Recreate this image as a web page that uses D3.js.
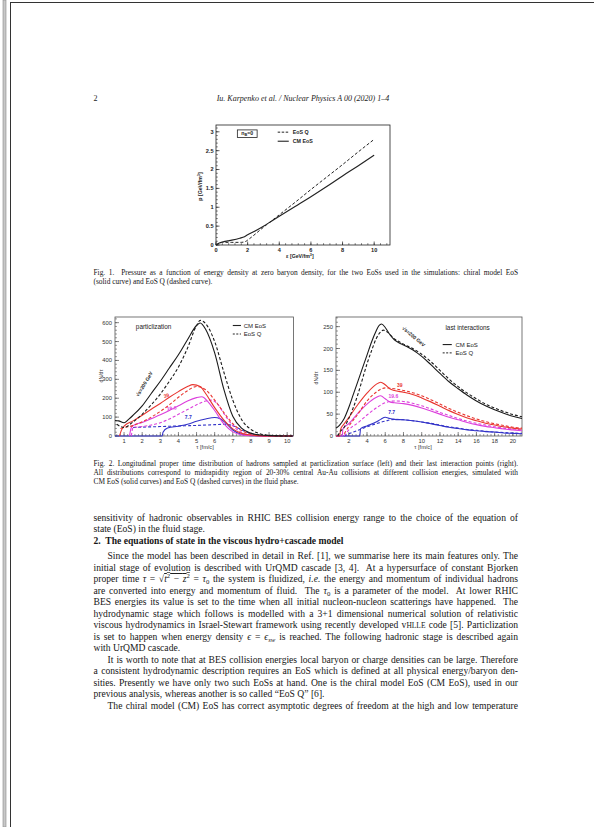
<!DOCTYPE html>
<html><head><meta charset="utf-8">
<script src="https://cdn.jsdelivr.net/npm/d3@7"></script>
<style>html,body{margin:0;padding:0;background:#fff;} svg{display:block}</style>
</head><body><svg id="page" width="594" height="827"></svg>
<script>
// ---------------- Fig. 1 data ----------------
const fig1EpsCM = [0, 0.25, 0.5, 0.75, 1, 1.5, 1.8, 2, 2.5, 3, 3.5, 4, 5, 6, 7, 8, 9, 10];
const fig1PCM   = [0, 0.06, 0.09, 0.11, 0.13, 0.18, 0.22, 0.27, 0.38, 0.5, 0.63, 0.76, 1.02, 1.28, 1.55, 1.83, 2.1, 2.38];
const fig1EpsQ  = [0, 0.15, 0.4, 1, 1.6, 1.9, 2, 3, 4, 5, 6, 7, 8, 9, 10];
const fig1PQ    = [0, 0.03, 0.07, 0.07, 0.07, 0.1, 0.13, 0.47, 0.8, 1.13, 1.47, 1.8, 2.13, 2.47, 2.8];
const fig1XTicks = [0, 2, 4, 6, 8, 10];
const fig1YTicks = [0, 0.5, 1, 1.5, 2, 2.5, 3];

// ---------------- Fig. 2 left (particlization) ----------------
const partTau200CM = [0.5, 0.7, 1.0, 1.25, 1.5, 2, 2.5, 3, 3.5, 4, 4.5, 5, 5.2, 5.5, 6, 6.5, 7, 7.5, 8, 8.5, 9, 10, 10.3];
const partVal200CM = [82, 80, 70, 88, 110, 160, 225, 290, 360, 430, 510, 585, 598, 565, 440, 250, 105, 40, 14, 5, 2, 0, 0];
const partTau200Q  = [0.6, 0.8, 1.0, 1.5, 2, 2.5, 3, 3.5, 4, 4.5, 5, 5.2, 5.5, 6, 6.5, 7, 7.5, 8, 8.5, 9, 10, 10.3];
const partVal200Q  = [62, 50, 45, 75, 115, 165, 222, 290, 365, 465, 585, 612, 595, 500, 340, 190, 85, 35, 12, 4, 0, 0];
const partTau39CM  = [0.75, 0.85, 1.0, 1.5, 2, 2.5, 3, 3.5, 4, 4.5, 4.8, 5.2, 5.5, 6, 6.5, 7, 7.5, 8, 9, 10.3];
const partVal39CM  = [0, 30, 52, 80, 110, 142, 172, 205, 235, 262, 272, 262, 225, 150, 85, 38, 14, 5, 0, 0];
const partTau39Q   = [0.8, 1.0, 1.5, 2, 2.5, 3, 3.5, 4, 4.5, 5, 5.5, 6, 6.5, 7, 7.5, 8, 8.5, 9, 10.3];
const partVal39Q   = [40, 45, 55, 75, 100, 130, 165, 205, 240, 262, 245, 190, 125, 65, 28, 10, 3, 0, 0];
const partTau19CM  = [1.3, 1.4, 1.5, 2, 2.5, 3, 3.5, 4, 4.5, 5, 5.3, 5.6, 6, 6.5, 7, 7.5, 8, 9, 10.3];
const partVal19CM  = [0, 45, 55, 72, 92, 112, 135, 160, 185, 203, 208, 185, 135, 65, 22, 6, 2, 0, 0];
const partTau19Q   = [1.4, 1.5, 2, 2.5, 3, 3.5, 4, 4.5, 5, 5.5, 5.8, 6.2, 6.5, 7, 7.5, 8, 9, 10.3];
const partVal19Q   = [0, 45, 50, 58, 70, 90, 115, 140, 165, 185, 190, 165, 120, 55, 18, 5, 0, 0];
const partTau7CM   = [0.5, 3.1, 3.15, 3.4, 4, 4.5, 5, 5.5, 6, 6.3, 6.6, 7, 7.5, 8, 9, 10.3];
const partVal7CM   = [0, 0, 20, 42, 52, 62, 78, 90, 98, 92, 70, 32, 8, 2, 0, 0];
const partTau7Q    = [1.5, 2, 3, 4, 5, 6, 6.5, 7, 7.5, 8, 8.5, 9, 10.3];
const partVal7Q    = [45, 47, 50, 53, 56, 60, 62, 55, 32, 12, 4, 1, 0];
const partXTicks = [1, 2, 3, 4, 5, 6, 7, 8, 9, 10];
const partYTicks = [0, 100, 200, 300, 400, 500, 600];

// ---------------- Fig. 2 right (last interactions) ----------------
const lastTau200CM = [0.6, 1, 1.5, 2, 2.5, 3, 3.5, 4, 4.5, 5, 5.3, 5.6, 6, 6.5, 7, 7.5, 8, 8.5, 9, 9.5, 10, 11, 12, 13, 14, 15, 16, 17, 18, 19, 20, 21];
const lastVal200CM = [18, 25, 40, 65, 95, 125, 155, 185, 215, 240, 252, 256, 248, 232, 220, 213, 208, 203, 197, 190, 182, 163, 143, 124, 108, 93, 80, 69, 60, 52, 45, 40];
const lastTau200Q  = [0.8, 1, 1.5, 2, 2.5, 3, 3.5, 4, 4.5, 5, 5.5, 5.8, 6.2, 6.7, 7, 7.5, 8, 8.5, 9, 9.5, 10, 11, 12, 13, 14, 15, 16, 17, 18, 19, 20, 21];
const lastVal200Q  = [0, 8, 20, 40, 65, 95, 130, 165, 195, 222, 238, 242, 238, 228, 222, 216, 210, 205, 200, 194, 187, 170, 150, 130, 113, 98, 85, 73, 64, 56, 49, 44];
const lastTau39CM  = [0.6, 1.0, 1.1, 1.5, 2, 3, 4, 5, 5.5, 6, 6.5, 7, 8, 9, 10, 11, 12, 13, 14, 15, 16, 17, 18, 19, 20, 21];
const lastVal39CM  = [0, 0, 15, 28, 42, 72, 98, 118, 123, 117, 108, 104, 100, 95, 87, 78, 68, 58, 49, 41, 35, 29, 25, 21, 18, 16];
const lastTau39Q   = [1.5, 2, 3, 4, 5, 5.5, 6, 7, 8, 9, 10, 11, 12, 13, 14, 15, 16, 17, 18, 19, 20, 21];
const lastVal39Q   = [5, 22, 50, 80, 100, 107, 110, 108, 104, 99, 92, 83, 73, 63, 54, 46, 39, 33, 28, 24, 20, 18];
const lastTau19CM  = [0.6, 1.3, 1.35, 1.5, 2, 3, 4, 5, 5.5, 6, 6.5, 7, 8, 9, 10, 11, 12, 13, 14, 15, 16, 17, 18, 19, 20, 21];
const lastVal19CM  = [0, 0, 15, 20, 28, 52, 73, 88, 92, 85, 78, 76, 74, 70, 64, 57, 50, 43, 37, 31, 26, 22, 19, 16, 14, 12];
const lastTau19Q   = [1.5, 2, 3, 4, 5, 6, 7, 8, 9, 10, 11, 12, 13, 14, 15, 16, 17, 18, 19, 20, 21];
const lastVal19Q   = [0, 14, 30, 48, 64, 76, 80, 79, 75, 69, 62, 54, 47, 40, 34, 29, 25, 21, 18, 16, 14];
const lastTau7CM   = [0.6, 3.2, 3.3, 4, 5, 5.5, 6, 6.5, 7, 8, 9, 10, 11, 12, 13, 14, 15, 16, 17, 18, 19, 20, 21];
const lastVal7CM   = [0, 0, 17, 23, 32, 38, 43, 40, 38, 37, 35, 32, 28, 24, 20, 17, 14, 12, 10, 9, 7, 6, 5];
const lastTau7Q    = [1.5, 2, 3, 4, 5, 6, 7, 8, 9, 10, 11, 12, 13, 14, 15, 16, 17, 18, 19, 20, 21];
const lastVal7Q    = [0, 5, 13, 21, 28, 34, 38, 37, 35, 32, 29, 25, 21, 18, 15, 13, 11, 9, 8, 7, 6];
const lastXTicks = [2, 4, 6, 8, 10, 12, 14, 16, 18, 20];
const lastYTicks = [0, 50, 100, 150, 200, 250];

// ---------------- Texts ----------------
const headerPage = "2";
const headerText = "Iu. Karpenko et al. / Nuclear Physics A 00 (2020) 1\u20134";
const fig1Caption = [
  "Fig. 1.  Pressure as a function of energy density at zero baryon density, for the two EoSs used in the simulations: chiral model EoS",
  "(solid curve) and EoS Q (dashed curve)."
];
const fig2Caption = [
  "Fig. 2. Longitudinal proper time distribution of hadrons sampled at particlization surface (left) and their last interaction points (right).",
  "All distributions correspond to midrapidity region of 20-30% central Au-Au collisions at different collision energies, simulated with",
  "CM EoS (solid curves) and EoS Q (dashed curves) in the fluid phase."
];
const bodyLines = [
  {s:["sensitivity of hadronic observables in RHIC BES collision energy range to the choice of the equation of"], j:1},
  {s:["state (EoS) in the fluid stage."], j:0},
  {s:["2.  The equations of state in the viscous hydro+cascade model"], j:0, b:1, gapAfter:1},
  {s:["Since the model has been described in detail in Ref. [1], we summarise here its main features only. The"], j:1, ind:1},
  {s:["initial stage of evolution is described with UrQMD cascade [3, 4].  At a hypersurface of constant Bjorken"], j:1},
  {s:["proper time ", {t:"\u03C4", i:1}, " = \u221A", {t:"t", i:1, o:1}, {t:"2", sup:1, o:1}, {t:" \u2212 ", o:1}, {t:"z", i:1, o:1}, {t:"2", sup:1, o:1}, " = ", {t:"\u03C4", i:1}, {t:"0", sub:1}, " the system is fluidized, ", {t:"i.e.", i:1}, " the energy and momentum of individual hadrons"], j:1},
  {s:["are converted into energy and momentum of fluid.  The ", {t:"\u03C4", i:1}, {t:"0", sub:1}, " is a parameter of the model.  At lower RHIC"], j:1},
  {s:["BES energies its value is set to the time when all initial nucleon-nucleon scatterings have happened.  The"], j:1},
  {s:["hydrodynamic stage which follows is modelled with a 3+1 dimensional numerical solution of relativistic"], j:1},
  {s:["viscous hydrodynamics in Israel-Stewart framework using recently developed v", {t:"HLLE", sc:1}, " code [5]. Particlization"], j:1},
  {s:["is set to happen when energy density ", {t:"\u03F5", i:1}, " = ", {t:"\u03F5", i:1}, {t:"sw", sub:1, i:1}, " is reached. The following hadronic stage is described again"], j:1},
  {s:["with UrQMD cascade."], j:0},
  {s:["It is worth to note that at BES collision energies local baryon or charge densities can be large. Therefore"], j:1, ind:1},
  {s:["a consistent hydrodynamic description requires an EoS which is defined at all physical energy/baryon den-"], j:1},
  {s:["sities. Presently we have only two such EoSs at hand. One is the chiral model EoS (CM EoS), used in our"], j:1},
  {s:["previous analysis, whereas another is so called \u201CEoS Q\u201D [6]."], j:0},
  {s:["The chiral model (CM) EoS has correct asymptotic degrees of freedom at the high and low temperature"], j:1, ind:1}
];

const SERIF = "'Liberation Serif', 'Times New Roman', serif";
const SANS = "'Liberation Sans', Arial, Helvetica, sans-serif";
const C = {black:"#1a1a1a", red:"#e8352f", magenta:"#dc3fdc", blue:"#3333c8"};

function draw(){
const W = 594, H = 827;
const svg = d3.select("#page");
svg.append("rect").attr("width", W).attr("height", H).attr("fill", "#fff");

// page border
svg.append("rect").attr("x", 3).attr("y", 0).attr("width", 3).attr("height", H).attr("fill", "#c8c8c8").attr("stroke", "#888").attr("stroke-width", 0.6);
svg.append("line").attr("x1", 10.5).attr("x2", 10.5).attr("y1", 2).attr("y2", H).attr("stroke", "#333").attr("stroke-width", 1);
svg.append("line").attr("x1", 10).attr("x2", W).attr("y1", 2.5).attr("y2", 2.5).attr("stroke", "#333").attr("stroke-width", 1);

function textLine(g, segs, x, y, width, justify, size, opts) {
  opts = opts || {};
  const t = g.append("text").attr("x", x).attr("y", y).attr("font-size", size)
    .attr("font-family", SERIF).attr("fill", "#161616").style("white-space", "pre");
  if (opts.bold) t.attr("font-weight", "bold");
  let shift = 0;
  segs.forEach(s => {
    const o = typeof s === "string" ? {t:s} : s;
    const sp = t.append("tspan").text(o.t);
    let want = 0;
    if (o.sub) want = size*0.25;
    if (o.sup) want = -size*0.38;
    if (want !== shift) { sp.attr("dy", want - shift); shift = want; }
    if (o.sub || o.sup) sp.attr("font-size", size*0.7);
    if (o.sc) sp.attr("font-size", size*0.78);
    if (o.i) sp.attr("font-style", "italic");
    if (o.o) sp.style("text-decoration", "overline");
  });
  if (justify) {
    const nat = t.node().getComputedTextLength();
    const full = segs.map(s => typeof s === "string" ? s : s.t).join("");
    const n = (full.match(/ /g) || []).length;
    if (n > 0) t.attr("word-spacing", (width - nat) / n);
  }
  return t;
}

const LM = 93.5, RM = 518, TW = RM - LM;

svg.append("text").attr("x", LM).attr("y", 101).attr("font-family", SERIF).attr("font-size", 8).attr("fill", "#222").text(headerPage);
svg.append("text").attr("x", 303).attr("y", 101).attr("text-anchor", "middle").attr("font-family", SERIF)
  .attr("font-style", "italic").attr("font-size", 8).attr("fill", "#222").text(headerText);

function frame(g, x, y, o) {
  const [x0, x1] = x.range(), [y0, y1] = y.range();
  g.append("rect").attr("x", x0).attr("y", y1).attr("width", x1 - x0).attr("height", y0 - y1)
    .attr("fill", "none").attr("stroke", o.frameColor).attr("stroke-width", 0.8);
  const xd = x.domain(), yd = y.domain();
  const xm = d3.range(Math.ceil(xd[0]/o.xMinor)*o.xMinor, xd[1]+1e-9, o.xMinor);
  const ym = d3.range(Math.ceil(yd[0]/o.yMinor)*o.yMinor, yd[1]+1e-9, o.yMinor);
  g.selectAll(null).data(xm).join("line").attr("x1", d => x(d)).attr("x2", d => x(d))
    .attr("y1", y0).attr("y2", y0 - o.minorLen).attr("stroke", o.tickColor).attr("stroke-width", 0.6);
  g.selectAll(null).data(ym).join("line").attr("y1", d => y(d)).attr("y2", d => y(d))
    .attr("x1", x0).attr("x2", x0 + o.minorLen).attr("stroke", o.tickColor).attr("stroke-width", 0.6);
  g.selectAll(null).data(o.xTicks).join("line").attr("x1", d => x(d)).attr("x2", d => x(d))
    .attr("y1", y0).attr("y2", y0 - o.majorLen).attr("stroke", o.tickColor).attr("stroke-width", 0.7);
  g.selectAll(null).data(o.yTicks).join("line").attr("y1", d => y(d)).attr("y2", d => y(d))
    .attr("x1", x0).attr("x2", x0 + o.majorLen).attr("stroke", o.tickColor).attr("stroke-width", 0.7);
  g.selectAll(null).data(o.xTicks).join("text").attr("x", d => x(d)).attr("y", y0 + o.xLabOff)
    .attr("text-anchor", "middle").attr("font-family", SANS).attr("font-size", o.labSize).attr("fill", o.labColor)
    .attr("font-weight", o.labWeight || "normal").text(d => d);
  g.selectAll(null).data(o.yTicks).join("text").attr("x", x0 - o.yLabOff).attr("y", d => y(d) + o.labSize*0.35)
    .attr("text-anchor", "end").attr("font-family", SANS).attr("font-size", o.labSize).attr("fill", o.labColor)
    .attr("font-weight", o.labWeight || "normal").text(d => d);
}

function curve(g, x, y, xs, vs, color, dashed, w) {
  const pts = xs.map((d, i) => [d, vs[i]]);
  g.append("path").datum(pts)
    .attr("d", d3.line().x(d => x(d[0])).y(d => y(d[1])).curve(d3.curveMonotoneX))
    .attr("fill", "none").attr("stroke", color).attr("stroke-width", w || 1.1)
    .attr("stroke-dasharray", dashed ? "3,2" : null);
}

// ================= Fig. 1 =================
{
  const g = svg.append("g");
  const x = d3.scaleLinear().domain([0, 11]).range([216, 390]);
  const y = d3.scaleLinear().domain([0, 3.18]).range([245, 125]);
  frame(g, x, y, {frameColor:"#222", tickColor:"#222", xTicks:fig1XTicks, yTicks:fig1YTicks,
    xMinor:0.4, yMinor:0.1, majorLen:3.5, minorLen:1.8, labSize:5.6, labColor:"#222", labWeight:"bold", xLabOff:7, yLabOff:2.5});
  curve(g, x, y, fig1EpsQ, fig1PQ, "#222", true, 1.0);
  curve(g, x, y, fig1EpsCM, fig1PCM, "#222", false, 1.15);
  g.append("rect").attr("x", x(1.35)).attr("y", y(3.05)).attr("width", x(2.6) - x(1.35)).attr("height", y(2.85) - y(3.05))
    .attr("fill", "#fff").attr("stroke", "#222").attr("stroke-width", 0.8);
  const nb = g.append("text").attr("x", x(1.975)).attr("y", y(2.92)).attr("text-anchor", "middle")
    .attr("font-family", SANS).attr("font-size", 5.2).attr("font-weight", "bold").attr("fill", "#222");
  nb.append("tspan").text("n");
  nb.append("tspan").attr("dy", 1.3).attr("font-size", 3.8).text("B");
  nb.append("tspan").attr("dy", -1.3).text("=0");
  g.append("line").attr("x1", x(3.9)).attr("x2", x(4.6)).attr("y1", y(2.99)).attr("y2", y(2.99)).attr("stroke", "#222").attr("stroke-dasharray", "2.5,1.5").attr("stroke-width", 1);
  g.append("text").attr("x", x(4.85)).attr("y", y(2.99) + 1.9).attr("font-family", SANS).attr("font-size", 5.3).attr("font-weight", "bold").attr("fill", "#222").text("EoS Q");
  g.append("line").attr("x1", x(3.9)).attr("x2", x(4.6)).attr("y1", y(2.75)).attr("y2", y(2.75)).attr("stroke", "#222").attr("stroke-width", 1.1);
  g.append("text").attr("x", x(4.85)).attr("y", y(2.75) + 1.9).attr("font-family", SANS).attr("font-size", 5.3).attr("font-weight", "bold").attr("fill", "#222").text("CM EoS");
  g.append("text").attr("transform", `translate(202,${y(1.55)}) rotate(-90)`).attr("text-anchor", "middle")
    .attr("font-family", SANS).attr("font-size", 5.2).attr("font-weight", "bold").attr("fill", "#222")
    .html('p [GeV/fm<tspan dy="-1.6" font-size="3.7">3</tspan><tspan dy="1.6">]</tspan>');
  g.append("text").attr("x", x(5.3)).attr("y", 257.8).attr("text-anchor", "middle")
    .attr("font-family", SANS).attr("font-size", 5.2).attr("font-weight", "bold").attr("fill", "#222")
    .html('\u03B5 [GeV/fm<tspan dy="-1.6" font-size="3.7">3</tspan><tspan dy="1.6">]</tspan>');
}

textLine(svg, [fig1Caption[0]], LM, 275, TW, true, 7.4);
textLine(svg, [fig1Caption[1]], LM, 284, TW, false, 7.4);

// ================= Fig. 2 left =================
{
  const g = svg.append("g");
  const x = d3.scaleLinear().domain([0.5, 10.35]).range([115, 293.5]);
  const y = d3.scaleLinear().domain([0, 630]).range([436, 317]);
  frame(g, x, y, {frameColor:"#555", tickColor:"#555", xTicks:partXTicks, yTicks:partYTicks,
    xMinor:0.2, yMinor:20, majorLen:4, minorLen:2, labSize:5.8, labColor:"#333", xLabOff:7, yLabOff:3});
  const series = [
    [partTau7Q, partVal7Q, C.blue, true], [partTau7CM, partVal7CM, C.blue, false],
    [partTau19Q, partVal19Q, C.magenta, true], [partTau19CM, partVal19CM, C.magenta, false],
    [partTau39Q, partVal39Q, C.red, true], [partTau39CM, partVal39CM, C.red, false],
    [partTau200Q, partVal200Q, C.black, true], [partTau200CM, partVal200CM, C.black, false]
  ];
  series.forEach(s => curve(g, x, y, s[0], s[1], s[2], s[3], 1.1));
  g.append("text").attr("x", x(1.65)).attr("y", y(565)).attr("font-family", SANS).attr("font-size", 6.4).attr("fill", "#222").text("particlization");
  g.append("line").attr("x1", x(7.0)).attr("x2", x(7.45)).attr("y1", y(585)).attr("y2", y(585)).attr("stroke", "#222").attr("stroke-width", 1.1);
  g.append("text").attr("x", x(7.6)).attr("y", y(585) + 2).attr("font-family", SANS).attr("font-size", 6).attr("fill", "#222").text("CM EoS");
  g.append("line").attr("x1", x(7.0)).attr("x2", x(7.45)).attr("y1", y(540)).attr("y2", y(540)).attr("stroke", "#222").attr("stroke-dasharray", "2,1.5").attr("stroke-width", 1);
  g.append("text").attr("x", x(7.6)).attr("y", y(540) + 2).attr("font-family", SANS).attr("font-size", 6).attr("fill", "#222").text("EoS Q");
  g.append("text").attr("transform", `translate(${x(2.2)},${y(270)}) rotate(-59)`).attr("text-anchor", "middle")
    .attr("font-family", SANS).attr("font-size", 5).attr("font-weight", "bold").attr("fill", "#222").text("\u221As=200 GeV");
  g.append("text").attr("transform", `translate(${x(3.36)},${y(205)}) rotate(-15)`).attr("text-anchor", "middle")
    .attr("font-family", SANS).attr("font-size", 5).attr("font-weight", "bold").attr("fill", C.red).text("39");
  g.append("text").attr("transform", `translate(${x(3.64)},${y(138)}) rotate(-8)`).attr("text-anchor", "middle")
    .attr("font-family", SANS).attr("font-size", 5).attr("font-weight", "bold").attr("fill", C.magenta).text("19.6");
  g.append("text").attr("x", x(4.54)).attr("y", y(90)).attr("text-anchor", "middle")
    .attr("font-family", SANS).attr("font-size", 5).attr("font-weight", "bold").attr("fill", C.blue).text("7.7");
  g.append("text").attr("transform", `translate(103,376) rotate(-90)`).attr("text-anchor", "middle")
    .attr("font-family", SANS).attr("font-size", 5.2).attr("fill", "#333").text("dN/d\u03C4");
  g.append("text").attr("x", 205).attr("y", 448.5).attr("text-anchor", "middle")
    .attr("font-family", SANS).attr("font-size", 5.6).attr("fill", "#333").text("\u03C4 [fm/c]");
}

// ================= Fig. 2 right =================
{
  const g = svg.append("g");
  const x = d3.scaleLinear().domain([0.6, 21]).range([336, 522]);
  const y = d3.scaleLinear().domain([0, 272]).range([436, 317]);
  frame(g, x, y, {frameColor:"#555", tickColor:"#555", xTicks:lastXTicks, yTicks:lastYTicks,
    xMinor:0.4, yMinor:10, majorLen:4, minorLen:2, labSize:5.8, labColor:"#333", xLabOff:7, yLabOff:3});
  const series = [
    [lastTau7Q, lastVal7Q, C.blue, true], [lastTau7CM, lastVal7CM, C.blue, false],
    [lastTau19Q, lastVal19Q, C.magenta, true], [lastTau19CM, lastVal19CM, C.magenta, false],
    [lastTau39Q, lastVal39Q, C.red, true], [lastTau39CM, lastVal39CM, C.red, false],
    [lastTau200Q, lastVal200Q, C.black, true], [lastTau200CM, lastVal200CM, C.black, false]
  ];
  series.forEach(s => curve(g, x, y, s[0], s[1], s[2], s[3], 1.1));
  g.append("text").attr("x", x(12.6)).attr("y", y(243)).attr("font-family", SANS).attr("font-size", 6.4).attr("fill", "#222").text("last interactions");
  g.append("line").attr("x1", x(12.3)).attr("x2", x(13.3)).attr("y1", y(209)).attr("y2", y(209)).attr("stroke", "#222").attr("stroke-width", 1.1);
  g.append("text").attr("x", x(13.7)).attr("y", y(209) + 2).attr("font-family", SANS).attr("font-size", 6).attr("fill", "#222").text("CM EoS");
  g.append("line").attr("x1", x(12.3)).attr("x2", x(13.3)).attr("y1", y(190)).attr("y2", y(190)).attr("stroke", "#222").attr("stroke-dasharray", "2,1.5").attr("stroke-width", 1);
  g.append("text").attr("x", x(13.7)).attr("y", y(190) + 2).attr("font-family", SANS).attr("font-size", 6).attr("fill", "#222").text("EoS Q");
  g.append("text").attr("transform", `translate(${x(9.0)},${y(224)}) rotate(40)`).attr("text-anchor", "middle")
    .attr("font-family", SANS).attr("font-size", 5).attr("font-weight", "bold").attr("fill", "#222").text("\u221As=200 GeV");
  g.append("text").attr("x", x(7.6)).attr("y", y(112)).attr("text-anchor", "middle")
    .attr("font-family", SANS).attr("font-size", 5).attr("font-weight", "bold").attr("fill", C.red).text("39");
  g.append("text").attr("x", x(6.9)).attr("y", y(86)).attr("text-anchor", "middle")
    .attr("font-family", SANS).attr("font-size", 5).attr("font-weight", "bold").attr("fill", C.magenta).text("19.6");
  g.append("text").attr("x", x(6.7)).attr("y", y(50)).attr("text-anchor", "middle")
    .attr("font-family", SANS).attr("font-size", 5).attr("font-weight", "bold").attr("fill", C.blue).text("7.7");
  g.append("text").attr("transform", `translate(318,378) rotate(-90)`).attr("text-anchor", "middle")
    .attr("font-family", SANS).attr("font-size", 5.2).attr("fill", "#333").text("dN/d\u03C4");
  g.append("text").attr("x", 423).attr("y", 448.5).attr("text-anchor", "middle")
    .attr("font-family", SANS).attr("font-size", 5.6).attr("fill", "#333").text("\u03C4 [fm/c]");
}

fig2Caption.forEach((l, i) => textLine(svg, [l], LM, 466 + i * 9, TW, i < 2, 7.4));

let yb = 520.5;
bodyLines.forEach(L => {
  const x0 = LM + (L.ind ? 14 : 0);
  textLine(svg, L.s, x0, yb, RM - x0, !!L.j, 9.6, {bold: !!L.b});
  yb += L.gapAfter ? 15.5 : 11.5;
});
}
if (document.fonts && document.fonts.ready) document.fonts.ready.then(draw); else draw();
</script></body></html>
